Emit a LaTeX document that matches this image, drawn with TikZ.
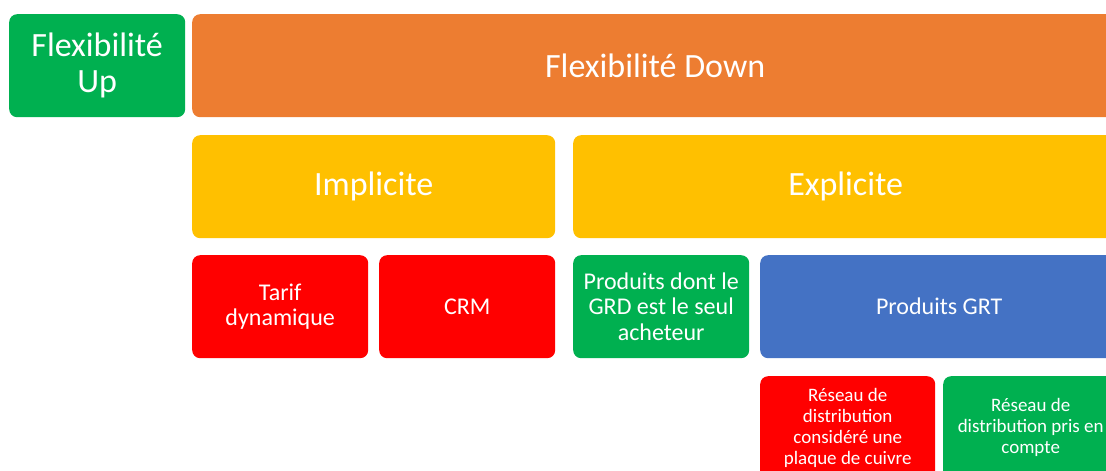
\documentclass[tikz,border=0pt]{standalone}
\usepackage{fontspec}
\setmainfont{Carlito}
\definecolor{upgreen}{HTML}{00B050}
\definecolor{downorange}{HTML}{ED7D31}
\definecolor{impyellow}{HTML}{FFC000}
\definecolor{prodred}{HTML}{FF0000}
\definecolor{grtblue}{HTML}{4472C4}
\tikzset{
	box/.style={anchor=north west, inner sep=0pt, rounded corners=8pt, text=white, align=center, draw=none},
	bigbox/.style={box, font=\fontsize{34}{36}\selectfont},
	midbox/.style={box, font=\fontsize{24}{25.5}\selectfont},
	smallbox/.style={box, font=\fontsize{19}{21}\selectfont},
}

\begin{document}
\begin{tikzpicture}[x=1pt, y=-1pt]
		%%%%% START %%%%%
		
		\useasboundingbox (0, 0) rectangle (1106, 471);
		\clip (0, 0) rectangle (1106, 471);
		
		% niveau 1
		\node[bigbox, fill=upgreen, minimum width=176pt, minimum height=103pt] (up) at (9, 14) {Flexibilité\\Up};
		\node[bigbox, fill=downorange, minimum width=926pt, minimum height=103pt] (down) at (192, 14) {Flexibilité Down};
		
		% niveau 2
		\node[bigbox, fill=impyellow, minimum width=363pt, minimum height=103pt] (implicite) at (192, 135) {Implicite};
		\node[bigbox, fill=impyellow, minimum width=545pt, minimum height=103pt] (explicite) at (573, 135) {Explicite};
		
		% niveau 3
		\node[midbox, fill=prodred, minimum width=176pt, minimum height=103pt] (tarif) at (192, 255) {Tarif\\dynamique};
		\node[midbox, fill=prodred, minimum width=176pt, minimum height=103pt] (crm) at (379, 255) {CRM};
		\node[midbox, fill=upgreen, minimum width=176pt, minimum height=103pt] (grd) at (573, 255) {Produits dont le\\GRD est le seul\\acheteur};
		\node[midbox, fill=grtblue, minimum width=358pt, minimum height=103pt] (grt) at (760, 255) {Produits GRT};
		
		% niveau 4
		\node[smallbox, fill=prodred, minimum width=175pt, minimum height=103pt] (cuivre) at (760, 376) {Réseau de\\distribution\\considéré une\\plaque de cuivre};
		\node[smallbox, fill=upgreen, minimum width=175pt, minimum height=103pt] (reseau) at (943, 376) {Réseau de\\distribution pris en\\compte};
		
		%%%%% END %%%%%
	\end{tikzpicture}
\end{document}
